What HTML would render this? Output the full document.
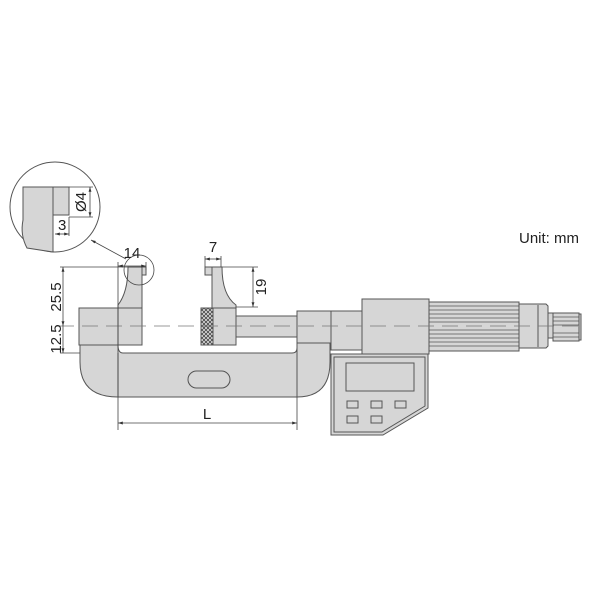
<!DOCTYPE html>
<html><head><style>html,body{margin:0;padding:0;background:#fff;}svg{display:block}</style></head><body>
<svg width="600" height="599" viewBox="0 0 600 599" xmlns="http://www.w3.org/2000/svg" font-family="Liberation Sans, Arial, sans-serif">
<defs>
<pattern id="kn" width="4" height="4" patternUnits="userSpaceOnUse"><rect width="4" height="4" fill="#ddd"/><path d="M0,0L4,4M4,0L0,4" stroke="#444" stroke-width="0.8"/></pattern>
<marker id="ar" viewBox="0 0 10 10" refX="10" refY="5" markerWidth="6" markerHeight="6" orient="auto-start-reverse"><path d="M0,2L10,5L0,8z" fill="#333"/></marker>
</defs>
<g stroke="#555" stroke-width="1" fill="#d6d6d6">
<path d="M80,345 L80,362 Q80,397 118,397 L297,397 Q330,397 330,362 L330,343 L297,343 L297,348 Q297,353 292,353 L123,353 Q118,353 118,345 Z"/>
<line x1="118" y1="353" x2="118" y2="397"/>
<line x1="297" y1="343" x2="297" y2="397"/>
<rect x="188" y="371" width="42" height="17" rx="8.5"/>
<rect x="79" y="308" width="63" height="37"/>
<line x1="118" y1="308" x2="118" y2="345"/>
<path d="M118,308 L118,305 Q128,292 128,267 L142,267 L142,308 Z"/>
<rect x="142" y="267" width="4" height="8"/>
<rect x="213" y="308" width="23" height="37"/>
<path d="M212,308 L212,267 L222,267 Q222,295 236,305 L236,308 Z"/>
<rect x="205" y="267" width="7" height="8"/>
<rect x="201" y="308" width="12" height="37" fill="url(#kn)"/>
<rect x="236" y="316" width="62" height="21"/>
<rect x="297" y="311" width="34" height="32"/>
<rect x="331" y="311" width="31" height="39"/>
<path d="M331,354 L428,354 L428,408 L383,435 L331,435 Z"/>
<path d="M334,357 L425,357 L425,406 L382,432 L334,432 Z" fill="none"/>
<rect x="346" y="363" width="68" height="28"/>
<rect x="347" y="401" width="11" height="7"/><rect x="371" y="401" width="11" height="7"/><rect x="395" y="401" width="11" height="7"/>
<rect x="347" y="416" width="11" height="7"/><rect x="371" y="416" width="11" height="7"/>
<rect x="362" y="299" width="67" height="55"/>
<rect x="429" y="302" width="90" height="49"/>
<g stroke-width="0.8"><line x1="429" y1="306" x2="519" y2="306"/><line x1="429" y1="310" x2="519" y2="310"/><line x1="429" y1="314" x2="519" y2="314"/><line x1="429" y1="318" x2="519" y2="318"/><line x1="429" y1="322" x2="519" y2="322"/><line x1="429" y1="330" x2="519" y2="330"/><line x1="429" y1="334" x2="519" y2="334"/><line x1="429" y1="338" x2="519" y2="338"/><line x1="429" y1="342" x2="519" y2="342"/><line x1="429" y1="346" x2="519" y2="346"/></g>
<path d="M519,304 L546,304 L548,306 L548,346 L546,348 L519,348 Z"/>
<line x1="538" y1="305" x2="538" y2="347"/>
<rect x="548" y="313" width="5" height="25"/>
<rect x="553" y="313" width="26" height="28"/>
<g stroke-width="0.8"><line x1="553" y1="317" x2="579" y2="317"/><line x1="553" y1="321" x2="579" y2="321"/><line x1="553" y1="325" x2="579" y2="325"/><line x1="553" y1="333" x2="579" y2="333"/><line x1="553" y1="337" x2="579" y2="337"/></g>
<rect x="579" y="314" width="2" height="26"/>
</g>
<line x1="58" y1="326" x2="585" y2="326" stroke="#777" stroke-width="0.8" stroke-dasharray="16,8"/>
<g stroke="#444" stroke-width="0.8" fill="none">
<line x1="60" y1="267" x2="142" y2="267"/>
<line x1="60" y1="353" x2="80" y2="353"/>
<line x1="63" y1="267" x2="63" y2="326" marker-start="url(#ar)" marker-end="url(#ar)"/>
<line x1="63" y1="326" x2="63" y2="353" marker-end="url(#ar)"/>
<line x1="118" y1="262" x2="118" y2="430"/>
<line x1="146" y1="262" x2="146" y2="270"/>
<line x1="118" y1="266" x2="146" y2="266" marker-start="url(#ar)" marker-end="url(#ar)"/>
<line x1="205" y1="256" x2="205" y2="267"/><line x1="221" y1="256" x2="221" y2="267"/>
<line x1="205" y1="259" x2="221" y2="259" marker-start="url(#ar)" marker-end="url(#ar)"/>
<line x1="222" y1="267" x2="258" y2="267"/><line x1="236" y1="307" x2="258" y2="307"/>
<line x1="253" y1="267" x2="253" y2="307" marker-start="url(#ar)" marker-end="url(#ar)"/>
<line x1="297" y1="397" x2="297" y2="430"/>
<line x1="118" y1="423" x2="297" y2="423" marker-start="url(#ar)" marker-end="url(#ar)"/>
<circle cx="139" cy="270" r="15"/>
<line x1="126" y1="259" x2="91" y2="240" marker-end="url(#ar)"/>
</g>
<circle cx="55" cy="207" r="45" fill="#fff" stroke="#555" stroke-width="1"/>
<path d="M23,187 L53,187 L53,252 L27,248 Q20,235 23,220 Z" fill="#d6d6d6" stroke="#555"/>
<rect x="53" y="187" width="16" height="28" fill="#d6d6d6" stroke="#555"/>
<g stroke="#444" stroke-width="0.8" fill="none">
<line x1="69" y1="187" x2="93" y2="187"/><line x1="69" y1="217" x2="93" y2="217"/>
<line x1="90" y1="187" x2="90" y2="217" marker-start="url(#ar)" marker-end="url(#ar)"/>
<line x1="69" y1="217" x2="69" y2="236"/>
<line x1="55" y1="234" x2="69" y2="234" marker-start="url(#ar)" marker-end="url(#ar)"/>
</g>
<g fill="#222" font-size="15">
<text x="86" y="202" transform="rotate(-90 86 202)" text-anchor="middle">Ø4</text>
<text x="58" y="230">3</text>
<text x="132" y="258" text-anchor="middle">14</text>
<text x="213" y="252" text-anchor="middle">7</text>
<text x="266" y="287" transform="rotate(-90 266 287)" text-anchor="middle">19</text>
<text x="61" y="297" transform="rotate(-90 61 297)" text-anchor="middle">25.5</text>
<text x="61" y="339" transform="rotate(-90 61 339)" text-anchor="middle">12.5</text>
<text x="207" y="419" text-anchor="middle">L</text>
<text x="519" y="243">Unit: mm</text>
</g>
</svg>
</body></html>
